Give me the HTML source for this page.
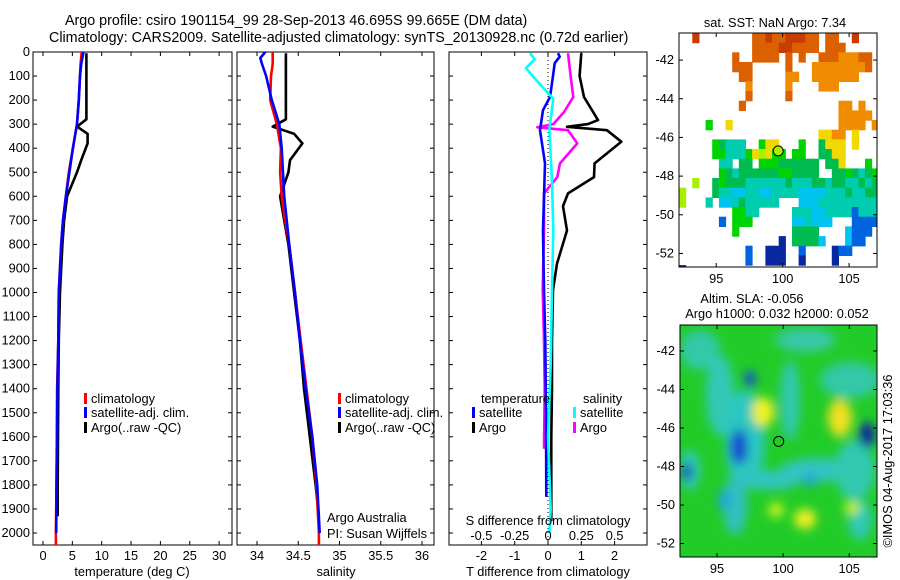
<!DOCTYPE html>
<html><head><meta charset="utf-8">
<style>
html,body{margin:0;padding:0;background:#fff;}
svg{display:block;font-family:"Liberation Sans",sans-serif;}
text{font-size:12.8px;fill:#000;}
</style></head>
<body>
<svg id="chart" width="900" height="580" viewBox="0 0 900 580" xmlns="http://www.w3.org/2000/svg">
<defs>
<clipPath id="c1"><rect x="33" y="52" width="199" height="493"/></clipPath>
<clipPath id="c2"><rect x="237" y="52" width="197" height="493"/></clipPath>
<clipPath id="c3"><rect x="449" y="52" width="198" height="493"/></clipPath>
<clipPath id="cm1"><rect x="679" y="33" width="198" height="234"/></clipPath>
<clipPath id="cm2"><rect x="680" y="325" width="197" height="232"/></clipPath>
<filter id="blur" x="-20%" y="-20%" width="140%" height="140%"><feGaussianBlur stdDeviation="5"/></filter>
</defs>
<text x="65" y="25" text-anchor="start" style="font-size:14.3px">Argo profile: csiro 1901154_99 28-Sep-2013 46.695S 99.665E (DM data)</text>
<text x="49" y="42" text-anchor="start" style="font-size:14.3px">Climatology: CARS2009. Satellite-adjusted climatology: synTS_20130928.nc (0.72d earlier)</text>
<g id="g1"></g>
<g id="g2"></g>
<g id="g3"></g>
<g id="m1"></g>
<g id="m2"></g>
<text transform="translate(892,461) rotate(-90)" text-anchor="middle">©IMOS 04-Aug-2017 17:03:36</text>
</svg>
<script>
// ---- data ----
const depthTicks=[0,100,200,300,400,500,600,700,800,900,1000,1100,1200,1300,1400,1500,1600,1700,1800,1900,2000];
const tempTicks=[0,5,10,15,20,25,30];
const salTicks=[34,34.5,35,35.5,36];
const salTickLabels=["34","34.5","35","35.5","36"];
const tdiffTicks=[-2,-1,0,1,2];
const sdiffTickLabels=["-0.5","-0.25","0","0.25","0.5"];
const sdiffTicks=[-0.5,-0.25,0,0.25,0.5];

const climDepth=[0,50,100,200,300,400,500,600,700,800,1000,1200,1400,1600,1800,2000,2060];
const tempClim=[6.6,6.4,6.3,6.1,5.8,5.1,4.4,3.9,3.4,3.1,2.7,2.6,2.4,2.35,2.3,2.2,2.2];
const tempSat=[6.9,6.5,6.3,6.1,5.8,5.1,4.5,3.9,3.4,3.1,2.7,2.6,2.45,2.4,2.3,2.25,2.25];
const argoDepth=[5,100,200,280,310,340,380,450,500,600,700,800,1000,1200,1400,1600,1800,1930];
const tempArgo=[7.4,7.4,7.4,7.4,5.8,7.6,7.6,6.5,5.8,4.1,3.6,3.3,2.9,2.7,2.6,2.55,2.5,2.5];

const salClim=[34.19,34.19,34.17,34.16,34.24,34.29,34.28,34.30,34.34,34.39,34.46,34.53,34.60,34.67,34.72,34.75,34.75];
const satDepth=[0,25,50,100,200,300,400,600,800,1000,1200,1400,1600,1800,2000];
const salSat=[34.10,34.04,34.06,34.11,34.18,34.27,34.30,34.33,34.39,34.46,34.52,34.59,34.67,34.73,34.76];
const salArgo=[34.35,34.35,34.35,34.35,34.19,34.45,34.55,34.40,34.38,34.28,34.33,34.38,34.45,34.52,34.57,34.64,34.71,34.75];

const tArgoDiffDepth=[5,100,187,283,300,311,325,373,463,520,588,641,742,880,990,1200,1400,1600,1800,1950];
const tArgoDiff=[1.0,0.95,1.08,1.5,1.2,0.57,1.77,2.2,1.4,1.38,0.6,0.45,0.57,0.27,0.15,0.12,0.12,0.1,0.1,0.1];
const sArgoDiffDepth=[5,100,187,250,300,313,325,380,463,520,588,742,990,1200,1400,1650];
const sArgoDiff=[0.15,0.17,0.19,0.12,0.04,-0.08,0.15,0.22,0.09,0.07,-0.03,-0.03,-0.04,-0.03,-0.025,-0.03];
const tSatDiffDepth=[5,20,46,100,187,242,325,463,742,990,1200,1500,1850];
const tSatDiff=[0.3,0.35,0.2,0.15,0.06,-0.15,-0.24,-0.09,-0.15,-0.12,-0.08,-0.06,-0.05];
const sSatDiffDepth=[5,30,67,110,195,325,535,742,990,1300,1600,1900,2000];
const sSatDiff=[-0.135,-0.1,-0.165,-0.1,0.04,0.01,0.03,0.04,0.03,0.02,0.0,0.02,0.01];

const lonTicks=[95,100,105];
const latTicks=[-42,-44,-46,-48,-50,-52];
const sstGrid=[
"..R........OOROORRROO.OO..R...",
"...........OOOORROOOO.OOO.....",
"........O..OOOO.O.O..OOOoooOO.",
"........OOO.....O...ooooooooO.",
".........OO.....oo..ooooooo...",
"..........o.....o....ooo......",
"..........O.....O.............",
".........O..............oo.o..",
"........................ooooo.",
"....G..Y................oooo.o",
".....................YYoo.Y...",
".....GgTTT..GYY...G..gYYY.Y...",
".....GGTTTGYyYGG.GG..ggYY.....",
"......TT.gg.GGGgggggg.ggY...G.",
"......GgTggggggGGgggg..ggGgTgG",
"..y..gGgggTTTTTTgTTTggTggTTgTg",
"y....gTTCCTTCCTTTTCCCCTTTgTTgg",
"y...T.CCTgTTTTT...CCCTTTTTTTTT",
"........GGTT.....TTTCCTTTTBTTT",
"......B.GGG......CCTCCC...BBBB",
"........G........gggg....CBBB.",
"...............D.ggggC...CBB..",
"..........B..DDD..B....DBB....",
"..........B..DDD..D....D......",
"D............................."];
const argoLon=99.665, argoLat=-46.695;

// ---- helpers ----
const NS="http://www.w3.org/2000/svg";
function mk(tag,attrs,parent){const e=document.createElementNS(NS,tag);for(const k in attrs)e.setAttribute(k,attrs[k]);parent.appendChild(e);return e;}
const yD=d=>52+d*0.2405;
const xT=v=>43+v*5.87;
const xS=v=>257+(v-34)*82.5;
const xD=v=>548+v*33.3;
const xDs=v=>548+v*133.2;

function frame(g,x0,x1,xt,xticks,labels,showY,name){
  const r=mk('rect',{x:x0,y:52,width:x1-x0,height:493,fill:'none',stroke:'#000','stroke-width':1},g);
  
  
  xticks.forEach((v,i)=>{const x=xt(v);
    mk('line',{x1:x,x2:x,y1:52,y2:56,stroke:'#000'},g);
    mk('line',{x1:x,x2:x,y1:545,y2:541,stroke:'#000'},g);
    if(labels){const t=mk('text',{x:x,y:560,'text-anchor':'middle'},g);t.textContent=labels[i];
      
      }
  });
  depthTicks.forEach(d=>{const y=yD(d);
    mk('line',{x1:x0,x2:x0+4,y1:y,y2:y,stroke:'#000'},g);
    mk('line',{x1:x1,x2:x1-4,y1:y,y2:y,stroke:'#000'},g);
    if(showY){const t=mk('text',{x:x0-3,y:y+4,'text-anchor':'end'},g);t.textContent=d;
      
      }
  });
}
function line(g,xs,ds,xf,color,clip,name){
  const pts=xs.map((v,i)=>xf(v).toFixed(1)+','+yD(ds[i]).toFixed(1)).join(' ');
  const p=mk('polyline',{points:pts,fill:'none',stroke:color,'stroke-width':2.6,'stroke-linejoin':'round','clip-path':'url(#'+clip+')'},g);
  
  
}
function txt(g,x,y,s,name,anchor){const t=mk('text',{x:x,y:y,'text-anchor':anchor||'start'},g);t.textContent=s;
  
  return t;}
function legend(g,x,y,color,label){
  const r=mk('rect',{x:x,y:y-10,width:3,height:11,fill:color},g);
  
  
  txt(g,x+7,y,label,'legend-entry');
}

// panel 1
const g1=document.getElementById('g1');
frame(g1,33,232,xT,tempTicks,tempTicks.map(String),true,'temperature');
line(g1,tempArgo,argoDepth,xT,'#000','c1','temp-argo-line');
line(g1,tempClim,climDepth,xT,'#f00','c1','temp-clim-line');
line(g1,tempSat,climDepth.slice(0,16),xT,'#00f','c1','temp-sat-line');
legend(g1,84,403,'#f00','climatology');
legend(g1,84,417,'#00f','satellite-adj. clim.');
legend(g1,84,432,'#000','Argo(..raw -QC)');
txt(g1,132,576,'temperature (deg C)','x-axis-title','middle');

// panel 2
const g2=document.getElementById('g2');
frame(g2,237,434,xS,salTicks,salTickLabels,false,'salinity');
line(g2,salArgo,argoDepth,xS,'#000','c2','sal-argo-line');
line(g2,salClim,climDepth,xS,'#f00','c2','sal-clim-line');
line(g2,salSat,satDepth,xS,'#00f','c2','sal-sat-line');
legend(g2,338,403,'#f00','climatology');
legend(g2,338,417,'#00f','satellite-adj. clim.');
legend(g2,338,432,'#000','Argo(..raw -QC)');
txt(g2,327,522,'Argo Australia','credit-line-1');
txt(g2,327,538,'PI: Susan Wijffels','credit-line-2');
txt(g2,336,576,'salinity','x-axis-title','middle');

// panel 3
const g3=document.getElementById('g3');
frame(g3,449,647,xD,tdiffTicks,tdiffTicks.map(String),false,'difference');
mk('line',{x1:xD(0),x2:xD(0),y1:52,y2:545,stroke:'#000','stroke-dasharray':'1,3'},g3);
line(g3,tArgoDiff,tArgoDiffDepth,xD,'#000','c3','tdiff-argo-line');
line(g3,sArgoDiff,sArgoDiffDepth,xDs,'#f0f','c3','sdiff-argo-line');
line(g3,tSatDiff,tSatDiffDepth,xD,'#00f','c3','tdiff-sat-line');
line(g3,sSatDiff,sSatDiffDepth,xDs,'#0ff','c3','sdiff-sat-line');
txt(g3,481,403,'temperature','legend-title-temperature');
txt(g3,583,403,'salinity','legend-title-salinity');
legend(g3,472,417,'#00f','satellite');
legend(g3,472,432,'#000','Argo');
legend(g3,573,417,'#0ff','satellite');
legend(g3,573,432,'#f0f','Argo');
txt(g3,548,525,'S difference from climatology','s-axis-title','middle');
sdiffTicks.forEach((v,i)=>txt(g3,xDs(v),540,sdiffTickLabels[i],'s-tick-label','middle'));
txt(g3,548,576,'T difference from climatology','x-axis-title','middle');

// maps
function mapFrame(g,x0,y0,x1,y1,lon0,lon1,lat0,lat1,name){
  const mx=l=>x0+(l-lon0)/(lon1-lon0)*(x1-x0);
  const my=l=>y0+(lat0-l)/(lat0-lat1)*(y1-y0);
  const r=mk('rect',{x:x0,y:y0,width:x1-x0,height:y1-y0,fill:'none',stroke:'#000'},g);
  
  
  lonTicks.forEach(l=>{const x=mx(l);mk('line',{x1:x,x2:x,y1:y0,y2:y0+4,stroke:'#000'},g);mk('line',{x1:x,x2:x,y1:y1,y2:y1-4,stroke:'#000'},g);
    txt(g,x,y1+16,String(l),'lon-tick-label','middle');});
  latTicks.forEach(l=>{const y=my(l);mk('line',{x1:x0,x2:x0+4,y1:y,y2:y,stroke:'#000'},g);mk('line',{x1:x1,x2:x1-4,y1:y,y2:y,stroke:'#000'},g);
    txt(g,x0-5,y+4,String(l),'lat-tick-label','end');});
  return {mx,my};
}
const m1=document.getElementById('m1');
const colors={R:'#c83c00',O:'#dc6000',o:'#f08c00',Y:'#f0d800',y:'#a8f000',G:'#00d400',g:'#00bc50',T:'#00ccb0',C:'#00c4f0',B:'#0064e0',D:'#0828a0'};
const cg=mk('g',{'clip-path':'url(#cm1)'},m1);
const lon0=92.2,lon1=107.1,lat0=-40.6,lat1=-52.7;
const sx=l=>679+(l-lon0)/(lon1-lon0)*198, sy=l=>33+(lat0-l)/(lat0-lat1)*234;
sstGrid.forEach((row,r)=>{[...row].forEach((c,k)=>{if(c==='.')return;
  const x=sx(lon0+k*0.5), y=sy(lat0-r*0.5);
  const rc=mk('rect',{x:x.toFixed(1),y:y.toFixed(1),width:(sx(lon0+0.5)-sx(lon0)+0.6).toFixed(1),height:(sy(lat0-0.5)-sy(lat0)+0.6).toFixed(1),fill:colors[c]},cg);
  
  
});});
const f1=mapFrame(m1,679,33,877,267,lon0,lon1,lat0,lat1,'sst-map');
const c1=mk('circle',{cx:f1.mx(argoLon),cy:f1.my(argoLat),r:5,fill:'#a8f000',stroke:'#000'},m1);


txt(m1,775,27,'sat. SST: NaN Argo: 7.34','sst-map-title','middle');

const m2=document.getElementById('m2');
const bg=mk('g',{'clip-path':'url(#cm2)'},m2);
mk('rect',{x:680,y:325,width:197,height:232,fill:'#22cc28'},bg);
const bl=mk('g',{filter:'url(#blur)'},bg);
const blobs=[
 [700,350,20,20,'#30c8a8'],[720,395,14,40,'#30c8b8'],[745,440,20,50,'#2cc8c0'],[735,505,12,30,'#30c0c0'],
 [790,400,10,40,'#30c8b0'],[805,340,30,12,'#38c8a8'],[820,470,40,12,'#30c4c0'],[770,480,30,10,'#30c4c0'],
 [850,380,30,18,'#30c8a8'],[855,470,20,30,'#30c8b0'],[690,470,10,20,'#30c8c0'],[860,520,12,20,'#30c8b8'],
 [763,412,11,15,'#f0f020'],[840,418,12,19,'#f0e020'],[805,519,11,10,'#f0f020'],[776,510,8,8,'#c0f020'],[852,508,8,7,'#c0f020'],
 [867,435,8,13,'#1028a0'],[739,447,9,18,'#1850d0'],[750,379,6,8,'#1850d0'],[687,472,5,9,'#1030b0'],[810,480,7,6,'#20a0e0'],[724,500,6,10,'#20a0e0']
];
blobs.forEach(b=>{const e=mk('ellipse',{cx:b[0],cy:b[1],rx:b[2],ry:b[3],fill:b[4]},bl);
  
  });
const f2=mapFrame(m2,680,325,877,557,lon0,lon1,-40.65,-52.7,'sla-map');
const c2=mk('circle',{cx:f2.mx(argoLon),cy:f2.my(argoLat),r:5,fill:'#22cc28',stroke:'#000'},m2);


txt(m2,752,303,'Altim. SLA: -0.056','sla-map-title-1','middle');
txt(m2,777,318,'Argo h1000: 0.032 h2000: 0.052','sla-map-title-2','middle');
</script>
</body></html>
